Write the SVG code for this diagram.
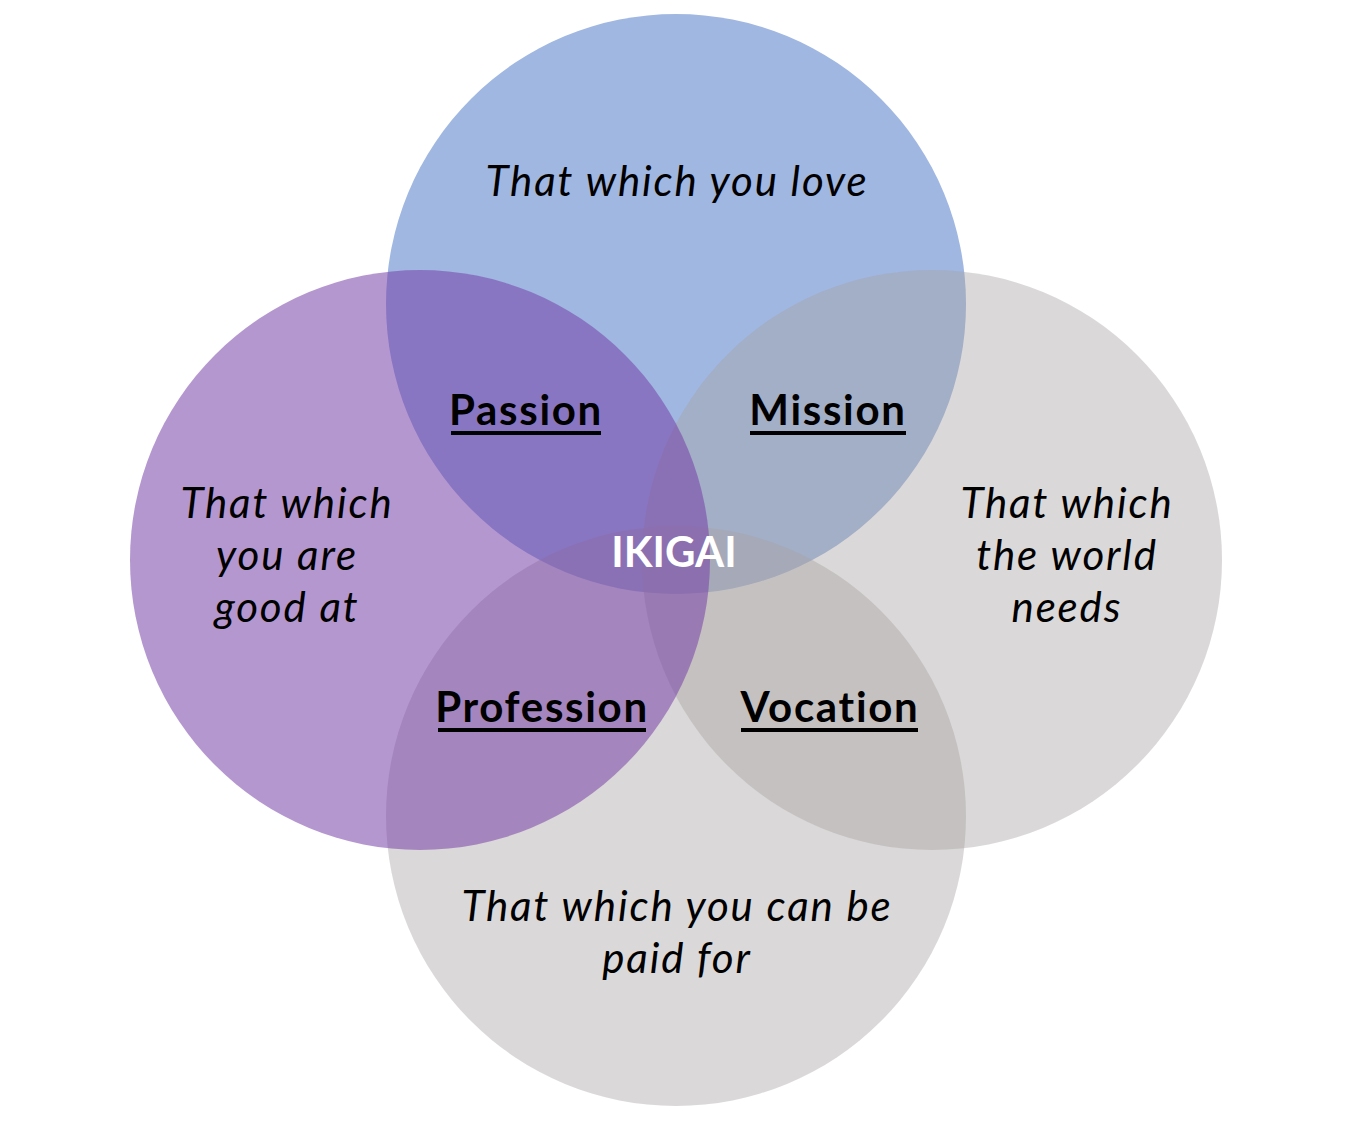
<svg xmlns="http://www.w3.org/2000/svg" width="1364" height="1126" viewBox="0 0 1364 1126">
<style>
.t{font-family:Lato,"Open Sans","Liberation Sans",sans-serif;font-size:42px;font-style:italic;fill:#000;text-anchor:middle;letter-spacing:1.9px}
.l{font-family:Lato,"Open Sans","Liberation Sans",sans-serif;font-size:42px;font-weight:bold;fill:#000;text-anchor:middle;letter-spacing:1.7px}
.w{font-family:Lato,"Open Sans","Liberation Sans",sans-serif;font-size:42px;font-weight:bold;fill:#fff;text-anchor:middle}
.u{fill:#000}
.gray{fill:#A8A2A4;fill-opacity:0.425}
</style>
<rect width="1364" height="1126" fill="#fff"/>
<g id="love">
<circle cx="676" cy="304" r="290" fill="#A0B7E1"/>
</g>
<g id="paid">
<circle cx="676" cy="816" r="290" class="gray"/>
</g>
<g id="world">
<circle cx="932" cy="560" r="290" class="gray"/>
</g>
<g id="good">
<circle cx="420" cy="560" r="290" fill="#753DA8" fill-opacity="0.537"/>
</g>
<g id="connectors"/>
<g id="love-text"><text class="t" x="677" y="196">That which you love</text></g>
<g id="good-text"><text class="t" x="287" y="518">That which</text><text class="t" x="287" y="570">you are</text><text class="t" x="287" y="622">good at</text></g>
<g id="world-text"><text class="t" x="1067" y="518">That which</text><text class="t" x="1067" y="570">the world</text><text class="t" x="1067" y="622">needs</text></g>
<g id="paid-text"><text class="t" x="677" y="921">That which you can be</text><text class="t" x="677" y="973">paid for</text></g>
<g id="passion"><text class="l" x="526" y="425">Passion</text><rect class="u" x="451" y="431" width="150" height="4"/></g>
<g id="mission"><text class="l" x="828" y="425">Mission</text><rect class="u" x="750" y="431" width="156" height="4"/></g>
<g id="profession"><text class="l" x="542" y="722">Profession</text><rect class="u" x="438" y="728" width="208" height="4"/></g>
<g id="vocation"><text class="l" x="830" y="722">Vocation</text><rect class="u" x="741" y="728" width="177" height="4"/></g>
<g id="ikigai"><text class="w" x="674" y="567">IKIGAI</text></g>
</svg>
